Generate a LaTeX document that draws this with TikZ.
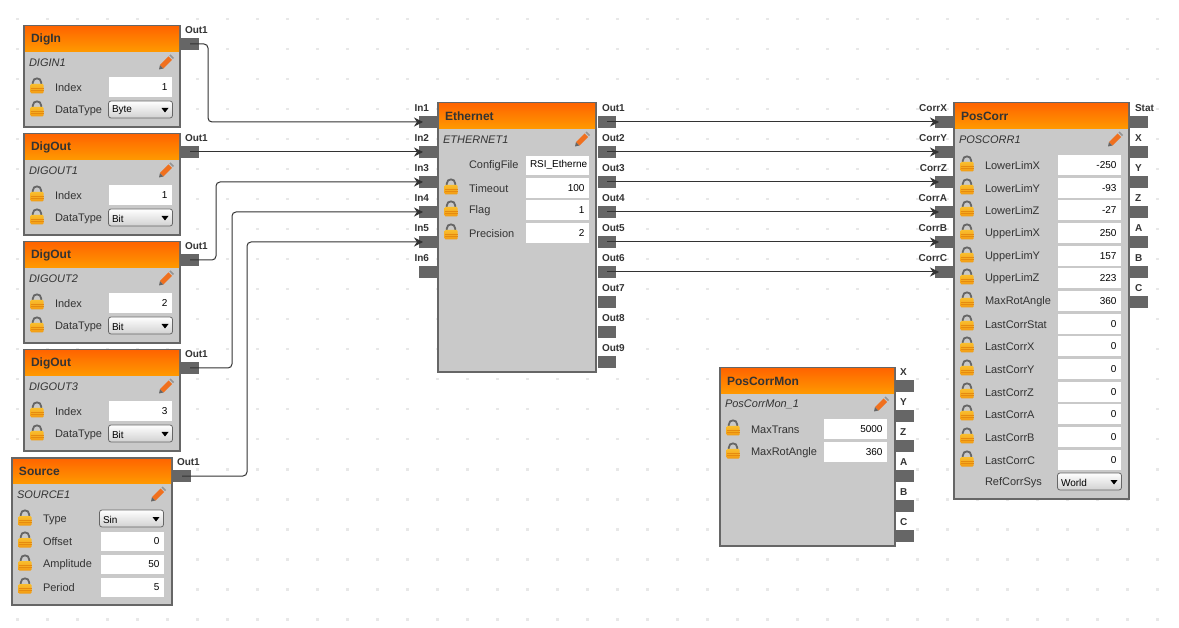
\documentclass[tikz,border=0pt]{standalone}
\usepackage{fontspec}
\setmainfont{Liberation Sans}
\usetikzlibrary{arrows.meta,calc}
\definecolor{blockgray}{HTML}{C9C9C9}
\definecolor{edgegray}{HTML}{666666}
\definecolor{headtop}{HTML}{FF6600}
\definecolor{headbot}{HTML}{FF9900}
\definecolor{gridgray}{HTML}{E8E8E8}
\definecolor{inkgray}{HTML}{333333}
\definecolor{locktop}{HTML}{F9BE2E}
\definecolor{lockbot}{HTML}{F29A12}
\definecolor{lockline}{HTML}{E58A10}
\definecolor{pencilor}{HTML}{F0701E}
\newcounter{auton}
\newcommand{\fsize}[1]{\fontsize{#1}{#1}\selectfont}
\tikzset{
 every node/.style={inner sep=0pt,outer sep=0pt},
 autoname/.code={\stepcounter{auton}\tikzset{name=a\arabic{auton}}},
 portbox/.style={fill=edgegray,minimum width=18pt,minimum height=12pt},
 frame/.style={draw=edgegray,fill=blockgray,line width=2pt,anchor=north west},
 head/.style={top color=headtop,bottom color=headbot,anchor=north west},
 titletext/.style={anchor=west,font=\fsize{12}\bfseries,text=inkgray},
 insttext/.style={anchor=west,font=\fsize{11}\itshape,text=inkgray},
 labeltext/.style={anchor=west,font=\fsize{11},text=inkgray,autoname},
 valuetext/.style={anchor=east,font=\fsize{10},text=black,autoname},
 valbox/.style={fill=white,anchor=north west,minimum width=63pt,minimum height=19.5pt,autoname},
 ddbox/.style={draw=edgegray,rounded corners=2.5pt,line width=0.8pt,top color=white,bottom color=black!18,minimum width=64pt,minimum height=17pt,anchor=north west,autoname},
 portlabel/.style={font=\fsize{10}\bfseries,text=inkgray,autoname},
 wire/.style={draw=inkgray,line width=1pt,rounded corners=4pt},
 inwire/.style={wire,-{Stealth[length=9pt,width=9pt,inset=3pt]}},
}
\newcommand{\lockicon}[2]{%
 \draw[edgegray,line width=1.8pt] ($(#1,#2)+(-4.2,-3)$) -- ++(0,-1.5) .. controls ($(#1,#2)+(-4.2,-10)$) and ($(#1,#2)+(4.2,-10)$) .. ($(#1,#2)+(4.2,-4.5)$) -- ++(0,1.5);
 \shade[top color=locktop,bottom color=lockbot,rounded corners=1pt] ($(#1,#2)+(-6.5,-3)$) rectangle ($(#1,#2)+(6.5,6.5)$);
 \fill[lockline] ($(#1,#2)+(-6.5,0.8)$) rectangle ($(#1,#2)+(6.5,1.5)$);
 \fill[lockline] ($(#1,#2)+(-6.5,3.4)$) rectangle ($(#1,#2)+(6.5,4.1)$);
}
\newcommand{\pencilicon}[2]{%
 \fill[edgegray] ($(#1,#2)+(-7,7)$) -- ($(#1,#2)+(-6,2.5)$) -- ($(#1,#2)+(-2.5,6)$) -- cycle;
 \fill[pencilor] ($(#1,#2)+(-6,2.5)$) -- ($(#1,#2)+(2.5,-6)$) -- ($(#1,#2)+(6,-2.5)$) -- ($(#1,#2)+(-2.5,6)$) -- cycle;
 \fill[edgegray!70] ($(#1,#2)+(3.4,-6.9)$) -- ($(#1,#2)+(4.5,-8)$) -- ($(#1,#2)+(8,-4.5)$) -- ($(#1,#2)+(6.9,-3.4)$) -- cycle;
}
% id x1 y1 x2 y2 title instance
\newcommand{\block}[7]{%
 \node[frame,minimum width={#4-#2-2},minimum height={#5-#3-2}] (#1) at (#2+1,#3+1) {};
 \node[head,minimum width={#4-#2-4},minimum height=24.5pt] (#1h) at (#2+2,#3+2) {};
 \node[titletext] (#1t) at (#2+8,#3+14.5) {#6};
 \node[insttext] (#1i) at (#2+6,#3+37.5) {#7};
 \pencilicon{#4-15}{#3+37.5}
}
% lockx y labelx boxx label value
\newcommand{\valrow}[6]{%
 \node[labeltext] at (#3,#2+0.7) {#5};
 \node[valbox] at (#4,#2-9.5) {};
 \node[valuetext] at (#4+58.5,#2-0.3) {#6};
 \lockicon{#1}{#2}
}
% y labelx ddleft label value lockcode
\newcommand{\ddrow}[6]{%
 \node[labeltext] at (#2,#1+0.7) {#4};
 \node[ddbox] at (#3+0.5,#1-9) {};
 \node[anchor=west,font=\fsize{10},text=black,autoname] at (#3+4,#1+0.5) {#5};
 \fill[black] (#3+53.5,#1-2) -- ++(7,0) -- ++(-3.5,4.5) -- cycle;
 #6
}
\newcommand{\iport}[5][3]{% labeloffset name x y label
 \node[portbox] (#2) at (#3,#4) {};
 \node[portlabel,anchor=east] at (#3+#1,#4-13.5) {#5};
}
\newcommand{\oport}[5][-5]{%
 \node[portbox] (#2) at (#3,#4) {};
 \node[portlabel,anchor=west] at (#3+#1,#4-13.5) {#5};
}
\begin{document}
\begin{tikzpicture}[x=1pt,y=-1pt]
\useasboundingbox (0,0) rectangle (1179,628);
\fill[white] (0,0) rectangle (1179,628);
\foreach \i in {0,...,38}{\foreach \j in {0,...,20}{
  \fill[gridgray] (16+30*\i,18+30*\j) rectangle ++(2.5,2.5);}}
% DigIn
\oport{digino}{190}{44}{Out1}
\block{digin}{23}{25}{181}{128}{DigIn}{DIGIN1}
\valrow{37}{87}{55}{109}{Index}{1}
\ddrow{110}{55}{108}{DataType}{Byte}{\lockicon{37}{110}}
% DigOut1
\oport{dout1o}{190}{152}{Out1}
\block{dout1}{23}{133}{181}{236}{DigOut}{DIGOUT1}
\valrow{37}{195}{55}{109}{Index}{1}
\ddrow{218}{55}{108}{DataType}{Bit}{\lockicon{37}{218}}
% DigOut2
\oport{dout2o}{190}{260}{Out1}
\block{dout2}{23}{241}{181}{344}{DigOut}{DIGOUT2}
\valrow{37}{303}{55}{109}{Index}{2}
\ddrow{326}{55}{108}{DataType}{Bit}{\lockicon{37}{326}}
% DigOut3
\oport{dout3o}{190}{368}{Out1}
\block{dout3}{23}{349}{181}{452}{DigOut}{DIGOUT3}
\valrow{37}{411}{55}{109}{Index}{3}
\ddrow{434}{55}{108}{DataType}{Bit}{\lockicon{37}{434}}
% Source
\oport{srco}{182}{476}{Out1}
\block{src}{11}{457}{173}{606}{Source}{SOURCE1}
\ddrow{519}{43}{99}{Type}{Sin}{\lockicon{25}{519}}
\valrow{25}{541}{43}{101}{Offset}{0}
\valrow{25}{564}{43}{101}{Amplitude}{50}
\valrow{25}{587}{43}{101}{Period}{5}
% Ethernet
\iport[1]{ein1}{428}{122}{In1}
\iport[1]{ein2}{428}{152}{In2}
\iport[1]{ein3}{428}{182}{In3}
\iport[1]{ein4}{428}{212}{In4}
\iport[1]{ein5}{428}{242}{In5}
\iport[1]{ein6}{428}{272}{In6}
\oport{eo1}{607}{122}{Out1}
\oport{eo2}{607}{152}{Out2}
\oport{eo3}{607}{182}{Out3}
\oport{eo4}{607}{212}{Out4}
\oport{eo5}{607}{242}{Out5}
\oport{eo6}{607}{272}{Out6}
\oport{eo7}{607}{302}{Out7}
\oport{eo8}{607}{332}{Out8}
\oport{eo9}{607}{362}{Out9}
\block{eth}{437}{102}{597}{373}{Ethernet}{ETHERNET1}
\node[labeltext] at (469,165.7) {ConfigFile};
\node[valbox] at (526,156) {};
\node[anchor=west,font=\fsize{10},text=black,autoname] at (530,164.5) {RSI\_Etherne};
\valrow{451}{188}{469}{526}{Timeout}{100}
\valrow{451}{210}{469}{526}{Flag}{1}
\valrow{451}{233}{469}{526}{Precision}{2}
% PosCorr
\iport{cx}{944}{122}{CorrX}
\iport{cy}{944}{152}{CorrY}
\iport{cz}{944}{182}{CorrZ}
\iport{ca}{944}{212}{CorrA}
\iport{cb}{944}{242}{CorrB}
\iport{cc}{944}{272}{CorrC}
\oport[-4]{pstat}{1139}{122}{Stat}
\oport[-4]{px}{1139}{152}{X}
\oport[-4]{py}{1139}{182}{Y}
\oport[-4]{pz}{1139}{212}{Z}
\oport[-4]{pa}{1139}{242}{A}
\oport[-4]{pb}{1139}{272}{B}
\oport[-4]{pc}{1139}{302}{C}
\block{pos}{953}{102}{1130}{500}{PosCorr}{POSCORR1}
\valrow{967}{165}{985}{1058}{LowerLimX}{-250}
\valrow{967}{188}{985}{1058}{LowerLimY}{-93}
\valrow{967}{210}{985}{1058}{LowerLimZ}{-27}
\valrow{967}{233}{985}{1058}{UpperLimX}{250}
\valrow{967}{256}{985}{1058}{UpperLimY}{157}
\valrow{967}{278}{985}{1058}{UpperLimZ}{223}
\valrow{967}{301}{985}{1058}{MaxRotAngle}{360}
\valrow{967}{324}{985}{1058}{LastCorrStat}{0}
\valrow{967}{346}{985}{1058}{LastCorrX}{0}
\valrow{967}{369}{985}{1058}{LastCorrY}{0}
\valrow{967}{392}{985}{1058}{LastCorrZ}{0}
\valrow{967}{414}{985}{1058}{LastCorrA}{0}
\valrow{967}{437}{985}{1058}{LastCorrB}{0}
\valrow{967}{460}{985}{1058}{LastCorrC}{0}
\ddrow{482}{985}{1057}{RefCorrSys}{World}{}
% PosCorrMon
\oport{mx}{905}{386}{X}
\oport{my}{905}{416}{Y}
\oport{mz}{905}{446}{Z}
\oport{ma}{905}{476}{A}
\oport{mb}{905}{506}{B}
\oport{mc}{905}{536}{C}
\block{mon}{719}{367}{896}{547}{PosCorrMon}{PosCorrMon\_1}
\valrow{733}{429}{751}{824}{MaxTrans}{5000}
\valrow{733}{452}{751}{824}{MaxRotAngle}{360}
% Connectors
\draw[inwire] (digino.center) -- (208,0 |- digino) -- (208,0 |- ein1) -- ([xshift=4pt]ein1.west);
\draw[inwire] (dout1o.center) -- ([xshift=4pt]ein2.west);
\draw[inwire] (dout2o.center) -- (216,0 |- dout2o) -- (216,0 |- ein3) -- ([xshift=4pt]ein3.west);
\draw[inwire] (dout3o.center) -- (232,0 |- dout3o) -- (232,0 |- ein4) -- ([xshift=4pt]ein4.west);
\draw[inwire] (srco.center) -- (247,0 |- srco) -- (247,0 |- ein5) -- ([xshift=4pt]ein5.west);
\draw[inwire] (eo1.center) -- ([xshift=4pt]cx.west);
\draw[inwire] (eo2.center) -- ([xshift=4pt]cy.west);
\draw[inwire] (eo3.center) -- ([xshift=4pt]cz.west);
\draw[inwire] (eo4.center) -- ([xshift=4pt]ca.west);
\draw[inwire] (eo5.center) -- ([xshift=4pt]cb.west);
\draw[inwire] (eo6.center) -- ([xshift=4pt]cc.west);
\end{tikzpicture}
\end{document}
